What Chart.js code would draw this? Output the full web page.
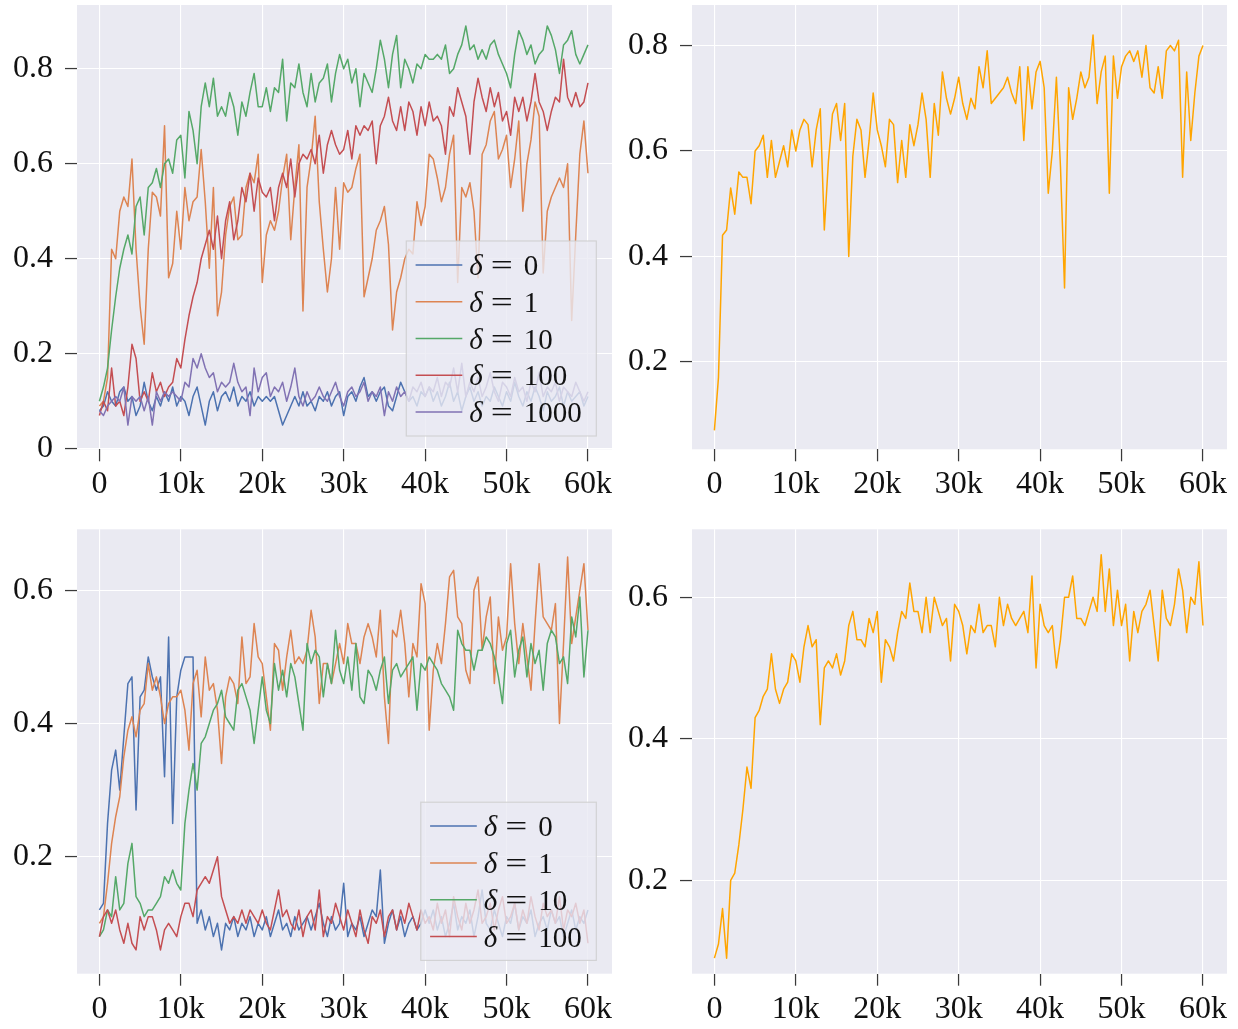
<!DOCTYPE html>
<html><head><meta charset="utf-8">
<script src="https://cdn.jsdelivr.net/npm/chart.js@4.4.1/dist/chart.umd.min.js"></script>
<style>
html,body{margin:0;padding:0;background:#fff;}
body{width:1238px;height:1029px;position:relative;overflow:hidden;}
canvas{position:absolute;}
</style></head><body>
<canvas id="tl" width="620" height="515" style="left:0px;top:0px"></canvas>
<canvas id="tr" width="623" height="515" style="left:615px;top:0px"></canvas>
<canvas id="bl" width="620" height="514" style="left:0px;top:515px"></canvas>
<canvas id="br" width="623" height="514" style="left:615px;top:515px"></canvas>
<script>
// ---------- data ----------
const steps = [
0,500,1000,1500,2000,2500,3000,3500,4000,4500,
5000,5500,6000,6500,7000,7500,8000,8500,9000,9500,
10000,10500,11000,11500,12000,12500,13000,13500,14000,14500,
15000,15500,16000,16500,17000,17500,18000,18500,19000,19500,
20000,20500,21000,21500,22000,22500,23000,23500,24000,24500,
25000,25500,26000,26500,27000,27500,28000,28500,29000,29500,
30000,30500,31000,31500,32000,32500,33000,33500,34000,34500,
35000,35500,36000,36500,37000,37500,38000,38500,39000,39500,
40000,40500,41000,41500,42000,42500,43000,43500,44000,44500,
45000,45500,46000,46500,47000,47500,48000,48500,49000,49500,
50000,50500,51000,51500,52000,52500,53000,53500,54000,54500,
55000,55500,56000,56500,57000,57500,58000,58500,59000,59500,
60000];

const deltaTop = ['0','1','10','100','1000'];
const deltaBottom = ['0','1','10','100'];

// top-left panel
const blueTL = [
0.08,0.09,0.12,0.10,0.09,0.12,0.13,0.10,0.11,0.07,
0.09,0.14,0.10,0.08,0.11,0.09,0.12,0.10,0.13,0.09,
0.11,0.10,0.07,0.11,0.13,0.09,0.05,0.10,0.12,0.08,
0.11,0.12,0.10,0.13,0.09,0.11,0.10,0.12,0.09,0.11,
0.10,0.11,0.10,0.11,0.08,0.05,0.07,0.09,0.11,0.09,
0.12,0.09,0.10,0.08,0.11,0.10,0.12,0.09,0.11,0.12,
0.07,0.11,0.12,0.10,0.13,0.15,0.11,0.12,0.10,0.12,
0.13,0.09,0.08,0.11,0.14,0.12,0.10,0.11,0.09,0.12,
0.11,0.13,0.10,0.12,0.09,0.11,0.14,0.10,0.12,0.08,
0.11,0.13,0.10,0.12,0.09,0.11,0.10,0.13,0.11,0.09,
0.12,0.10,0.14,0.11,0.09,0.12,0.10,0.13,0.11,0.08,
0.12,0.10,0.11,0.13,0.09,0.12,0.10,0.11,0.12,0.09,
0.11];
const orangeTL = [
0.09,0.10,0.15,0.42,0.40,0.50,0.53,0.51,0.61,0.42,
0.30,0.22,0.42,0.54,0.53,0.49,0.68,0.36,0.39,0.50,
0.42,0.55,0.48,0.52,0.53,0.63,0.52,0.38,0.55,0.28,
0.33,0.45,0.51,0.53,0.44,0.45,0.55,0.58,0.56,0.62,
0.35,0.45,0.48,0.46,0.50,0.57,0.62,0.44,0.55,0.64,
0.29,0.55,0.61,0.70,0.52,0.42,0.33,0.40,0.55,0.42,
0.56,0.54,0.55,0.59,0.62,0.32,0.36,0.40,0.46,0.48,
0.51,0.43,0.25,0.33,0.36,0.40,0.42,0.41,0.52,0.47,
0.51,0.62,0.61,0.57,0.52,0.55,0.62,0.66,0.35,0.55,
0.53,0.56,0.50,0.36,0.62,0.64,0.69,0.71,0.61,0.63,
0.66,0.55,0.61,0.69,0.50,0.60,0.65,0.73,0.70,0.37,
0.50,0.53,0.55,0.57,0.55,0.60,0.27,0.45,0.62,0.69,
0.58];
const greenTL = [
0.10,0.13,0.17,0.25,0.32,0.38,0.42,0.45,0.41,0.51,
0.53,0.45,0.55,0.56,0.59,0.55,0.60,0.61,0.58,0.65,
0.66,0.57,0.71,0.67,0.60,0.72,0.77,0.72,0.78,0.70,
0.72,0.70,0.75,0.72,0.66,0.73,0.70,0.75,0.79,0.72,
0.72,0.76,0.71,0.76,0.75,0.82,0.69,0.77,0.76,0.81,
0.75,0.72,0.79,0.73,0.77,0.78,0.81,0.73,0.79,0.83,
0.80,0.82,0.77,0.80,0.72,0.79,0.77,0.75,0.80,0.86,
0.82,0.76,0.83,0.87,0.76,0.82,0.80,0.77,0.81,0.80,
0.83,0.82,0.82,0.83,0.82,0.85,0.79,0.80,0.83,0.85,
0.89,0.84,0.85,0.82,0.84,0.82,0.85,0.86,0.83,0.81,
0.79,0.76,0.83,0.88,0.86,0.83,0.85,0.81,0.83,0.84,
0.89,0.87,0.84,0.79,0.85,0.86,0.88,0.83,0.81,0.83,
0.85];
const redTL = [
0.07,0.10,0.08,0.17,0.09,0.10,0.07,0.13,0.22,0.19,
0.10,0.12,0.10,0.16,0.12,0.14,0.11,0.13,0.14,0.19,
0.17,0.23,0.28,0.32,0.35,0.40,0.43,0.46,0.42,0.49,
0.40,0.48,0.52,0.44,0.48,0.55,0.52,0.58,0.50,0.57,
0.54,0.53,0.55,0.48,0.55,0.58,0.55,0.61,0.53,0.60,
0.62,0.61,0.63,0.60,0.66,0.58,0.64,0.67,0.64,0.62,
0.63,0.67,0.61,0.68,0.66,0.68,0.67,0.69,0.60,0.68,
0.70,0.74,0.69,0.67,0.72,0.67,0.73,0.71,0.66,0.72,
0.68,0.73,0.69,0.70,0.68,0.62,0.72,0.70,0.76,0.73,
0.70,0.62,0.73,0.78,0.74,0.71,0.76,0.72,0.75,0.69,
0.71,0.66,0.74,0.71,0.74,0.69,0.73,0.79,0.73,0.71,
0.67,0.71,0.74,0.73,0.82,0.74,0.72,0.75,0.72,0.73,
0.77];
const purpleTL = [
0.08,0.07,0.09,0.10,0.11,0.10,0.13,0.05,0.11,0.10,
0.11,0.08,0.11,0.05,0.12,0.10,0.12,0.11,0.12,0.11,
0.10,0.14,0.13,0.19,0.17,0.20,0.17,0.15,0.16,0.12,
0.14,0.13,0.14,0.18,0.14,0.12,0.13,0.07,0.17,0.12,
0.15,0.16,0.11,0.13,0.12,0.14,0.10,0.13,0.17,0.11,
0.09,0.12,0.10,0.11,0.13,0.11,0.10,0.12,0.14,0.11,
0.09,0.12,0.13,0.11,0.12,0.14,0.10,0.12,0.11,0.13,
0.07,0.12,0.10,0.13,0.11,0.12,0.10,0.13,0.12,0.14,
0.11,0.13,0.12,0.15,0.11,0.14,0.13,0.17,0.12,0.18,
0.11,0.14,0.12,0.15,0.11,0.13,0.16,0.12,0.10,0.14,
0.13,0.11,0.15,0.12,0.13,0.10,0.14,0.12,0.16,0.11,
0.13,0.12,0.14,0.10,0.13,0.12,0.11,0.14,0.12,0.10,
0.12];

// top-right panel
const orangeTR = [
0.07,0.17,0.44,0.45,0.53,0.48,0.56,0.55,0.55,0.50,
0.60,0.61,0.63,0.55,0.62,0.55,0.58,0.61,0.57,0.64,
0.60,0.64,0.66,0.65,0.57,0.64,0.68,0.45,0.58,0.67,
0.69,0.62,0.69,0.40,0.59,0.66,0.64,0.55,0.62,0.71,
0.64,0.61,0.57,0.66,0.65,0.54,0.62,0.55,0.65,0.61,
0.65,0.71,0.66,0.55,0.69,0.63,0.75,0.70,0.67,0.70,
0.74,0.69,0.66,0.70,0.68,0.76,0.72,0.79,0.69,0.70,
0.71,0.72,0.74,0.71,0.69,0.76,0.62,0.76,0.68,0.75,
0.77,0.72,0.52,0.60,0.74,0.57,0.34,0.72,0.66,0.70,
0.75,0.72,0.74,0.82,0.69,0.75,0.78,0.52,0.78,0.70,
0.76,0.78,0.79,0.77,0.79,0.74,0.80,0.72,0.71,0.76,
0.70,0.79,0.80,0.79,0.81,0.55,0.75,0.62,0.71,0.78,
0.80];

// bottom-left panel
const blueBL = [
0.12,0.13,0.25,0.33,0.36,0.30,0.38,0.46,0.47,0.27,
0.44,0.45,0.50,0.47,0.45,0.47,0.32,0.53,0.25,0.44,
0.48,0.50,0.50,0.50,0.10,0.12,0.09,0.11,0.08,0.10,
0.06,0.10,0.09,0.11,0.08,0.10,0.09,0.11,0.08,0.10,
0.09,0.11,0.08,0.10,0.12,0.09,0.10,0.08,0.11,0.09,
0.10,0.11,0.09,0.11,0.13,0.10,0.08,0.11,0.09,0.10,
0.16,0.08,0.10,0.09,0.11,0.08,0.10,0.12,0.11,0.18,
0.07,0.10,0.12,0.09,0.11,0.08,0.10,0.11,0.09,0.10,
0.12,0.10,0.12,0.09,0.11,0.08,0.10,0.13,0.09,0.11,
0.10,0.12,0.08,0.11,0.15,0.10,0.09,0.12,0.10,0.08,
0.11,0.10,0.13,0.09,0.11,0.10,0.12,0.08,0.10,0.11,
0.09,0.12,0.10,0.11,0.08,0.10,0.12,0.09,0.11,0.10,
0.12];
const orangeBL = [
0.10,0.11,0.16,0.22,0.26,0.29,0.35,0.39,0.41,0.38,
0.42,0.43,0.49,0.45,0.47,0.44,0.40,0.43,0.44,0.44,
0.45,0.42,0.36,0.46,0.48,0.41,0.50,0.45,0.46,0.42,
0.34,0.44,0.47,0.46,0.43,0.53,0.46,0.47,0.55,0.50,
0.49,0.44,0.39,0.52,0.51,0.45,0.50,0.54,0.49,0.50,
0.49,0.51,0.57,0.53,0.43,0.49,0.49,0.46,0.49,0.52,
0.49,0.55,0.52,0.52,0.49,0.53,0.55,0.53,0.50,0.57,
0.44,0.37,0.54,0.53,0.57,0.52,0.44,0.52,0.50,0.61,
0.58,0.39,0.48,0.52,0.49,0.55,0.62,0.63,0.56,0.55,
0.48,0.46,0.60,0.62,0.51,0.56,0.59,0.46,0.56,0.51,
0.53,0.64,0.55,0.49,0.55,0.50,0.45,0.55,0.64,0.56,
0.55,0.54,0.58,0.40,0.52,0.65,0.52,0.56,0.60,0.64,
0.54];
const greenBL = [
0.08,0.09,0.12,0.11,0.17,0.12,0.13,0.19,0.22,0.14,
0.13,0.11,0.12,0.12,0.13,0.14,0.17,0.16,0.18,0.16,
0.15,0.25,0.30,0.34,0.30,0.37,0.38,0.40,0.42,0.43,
0.45,0.41,0.40,0.39,0.45,0.46,0.44,0.42,0.37,0.42,
0.47,0.42,0.40,0.49,0.45,0.48,0.44,0.49,0.47,0.43,
0.39,0.52,0.49,0.51,0.50,0.44,0.49,0.46,0.54,0.48,
0.46,0.50,0.45,0.52,0.44,0.43,0.48,0.47,0.45,0.48,
0.50,0.43,0.48,0.49,0.47,0.48,0.49,0.50,0.42,0.49,
0.48,0.50,0.49,0.48,0.46,0.45,0.44,0.42,0.54,0.52,
0.51,0.51,0.48,0.51,0.51,0.53,0.52,0.50,0.47,0.43,
0.52,0.54,0.47,0.51,0.53,0.47,0.52,0.49,0.51,0.45,
0.52,0.54,0.53,0.49,0.50,0.46,0.56,0.53,0.59,0.47,
0.54];
const redBL = [
0.08,0.11,0.12,0.10,0.12,0.09,0.07,0.10,0.07,0.06,
0.11,0.09,0.11,0.11,0.09,0.06,0.09,0.10,0.09,0.08,
0.11,0.13,0.13,0.11,0.15,0.16,0.17,0.16,0.18,0.20,
0.14,0.12,0.10,0.11,0.10,0.12,0.10,0.12,0.11,0.10,
0.12,0.10,0.09,0.12,0.15,0.11,0.12,0.10,0.09,0.12,
0.08,0.11,0.12,0.09,0.15,0.08,0.11,0.10,0.13,0.11,
0.09,0.12,0.10,0.08,0.12,0.09,0.07,0.11,0.10,0.12,
0.08,0.11,0.12,0.09,0.12,0.10,0.13,0.11,0.09,0.12,
0.10,0.11,0.09,0.13,0.10,0.12,0.08,0.14,0.11,0.09,
0.13,0.10,0.12,0.15,0.10,0.11,0.13,0.09,0.12,0.14,
0.10,0.11,0.13,0.09,0.12,0.10,0.14,0.11,0.09,0.13,
0.11,0.12,0.10,0.14,0.09,0.12,0.11,0.13,0.10,0.12,
0.07];

// bottom-right panel
const orangeBR = [
0.09,0.11,0.16,0.09,0.20,0.21,0.25,0.30,0.36,0.33,
0.43,0.44,0.46,0.47,0.52,0.47,0.45,0.47,0.48,0.52,
0.51,0.48,0.53,0.56,0.53,0.54,0.42,0.50,0.51,0.50,
0.52,0.49,0.51,0.56,0.58,0.54,0.54,0.53,0.57,0.55,
0.58,0.48,0.54,0.53,0.51,0.55,0.58,0.57,0.62,0.58,
0.58,0.55,0.60,0.55,0.60,0.58,0.56,0.57,0.51,0.59,
0.58,0.56,0.52,0.56,0.55,0.59,0.55,0.56,0.56,0.53,
0.60,0.56,0.59,0.57,0.56,0.57,0.58,0.55,0.63,0.50,
0.59,0.56,0.55,0.56,0.50,0.54,0.60,0.60,0.63,0.57,
0.57,0.56,0.58,0.60,0.58,0.66,0.58,0.64,0.56,0.61,
0.56,0.59,0.51,0.58,0.55,0.58,0.59,0.61,0.56,0.51,
0.61,0.57,0.56,0.59,0.64,0.61,0.55,0.60,0.59,0.65,
0.56];

// ticks
const xTickValues = [0,10000,20000,30000,40000,50000,60000];
const xTickLabels = ['0','10k','20k','30k','40k','50k','60k'];
const yTicksTL = [0,0.2,0.4,0.6,0.8];
const yLabelsTL = ['0','0.2','0.4','0.6','0.8'];
const yTicksTR = [0.2,0.4,0.6,0.8];
const yLabelsTR = ['0.2','0.4','0.6','0.8'];
const yTicksB = [0.2,0.4,0.6];
const yLabelsB = ['0.2','0.4','0.6'];

// ---------- style ----------
const FONT = '"Liberation Serif", "DejaVu Serif", serif';
const palette = ['#4C72B0','#DD8452','#55A868','#C44E52','#8172B3'];
const singleColor = '#FFA500';
const X_MIN = -2750, X_MAX = 62950;

const bgPlugin = {
  id: 'plotBg',
  beforeDraw(chart) {
    const {ctx, chartArea: a} = chart;
    ctx.save();
    ctx.fillStyle = '#EAEAF2';
    ctx.fillRect(a.left, a.top, a.right - a.left, a.bottom - a.top);
    ctx.restore();
  }
};

const legendPlugin = {
  id: 'mplLegend',
  afterDatasetsDraw(chart, args, opts) {
    const items = opts.items;
    if (!items || !items.length) return;
    const ctx = chart.ctx, a = chart.chartArea;
    const fs = 29, rowH = 36.8;
    const normal = fs + 'px ' + FONT, ital = 'italic ' + fs + 'px ' + FONT;
    ctx.save();
    ctx.font = normal;
    let numW = 0;
    items.forEach(it => { numW = Math.max(numW, ctx.measureText(it.label).width); });
    const boxW = 9.3 + 46.7 + 7 + 54.4 + numW + 14.6;
    const boxH = items.length * rowH + 11;
    const right = a.right - 15.7, bottom = a.bottom - 13.3;
    const left = right - boxW, top = bottom - boxH;
    ctx.fillStyle = 'rgba(234,234,242,0.8)';
    ctx.fillRect(left, top, boxW, boxH);
    ctx.strokeStyle = 'rgba(204,204,204,0.8)';
    ctx.lineWidth = 1.2;
    ctx.strokeRect(left, top, boxW, boxH);
    items.forEach((it, k) => {
      const cy = top + 5.5 + rowH * (k + 0.5);
      ctx.strokeStyle = it.color; ctx.lineWidth = 1.5;
      ctx.beginPath(); ctx.moveTo(left + 9.3, cy); ctx.lineTo(left + 56, cy); ctx.stroke();
      const tx = left + 63, base = cy + 10;
      ctx.fillStyle = '#111';
      ctx.textBaseline = 'alphabetic';
      ctx.textAlign = 'left';
      ctx.font = ital; ctx.fillText('\u03B4', tx, base);
      ctx.font = normal;
      ctx.save(); ctx.translate(tx + 32.5, base); ctx.scale(1.35, 1);
      ctx.textAlign = 'center'; ctx.fillText('=', 0, 0); ctx.restore();
      ctx.textAlign = 'left'; ctx.fillText(it.label, tx + 54.4, base);
    });
    ctx.restore();
  }
};

function gridOpts() {
  return { color: '#FFFFFF', lineWidth: 1.1, drawTicks: true, tickLength: 12,
           tickColor: '#3a3a3a', tickWidth: 1.25 };
}

function makeChart(id, sets, cfg) {
  const n = sets.length;
  const datasets = sets.map((s, i) => ({
    data: steps.map((st, j) => ({x: st, y: s.values[j]})),
    borderColor: s.color, backgroundColor: s.color,
    borderWidth: 1.5, pointRadius: 0, tension: 0, fill: false,
    borderJoinStyle: 'round', order: n - 1 - i
  }));
  return new Chart(document.getElementById(id), {
    type: 'line',
    data: { datasets },
    options: {
      responsive: false, animation: false, devicePixelRatio: 1,
      layout: { padding: { top: cfg.padTop, right: cfg.padRight, left: 0, bottom: 0 } },
      plugins: { legend: { display: false }, tooltip: { enabled: false },
                 mplLegend: { items: cfg.legend || [] } },
      scales: {
        x: {
          type: 'linear', min: X_MIN, max: X_MAX,
          afterBuildTicks: s => { s.ticks = xTickValues.map(v => ({value: v})); },
          afterFit: s => { s.height = cfg.xH; s.paddingLeft = 0; s.paddingRight = 0; s.paddingTop = 0; s.paddingBottom = 0; },
          grid: gridOpts(), border: { display: false },
          ticks: { font: { family: FONT, size: 32 }, color: '#111', padding: cfg.xPad,
                   maxRotation: 0, autoSkip: false, callback: (v, i) => xTickLabels[i] }
        },
        y: {
          type: 'linear', min: cfg.yMin, max: cfg.yMax,
          afterBuildTicks: s => { s.ticks = cfg.yTicks.map(v => ({value: v})); },
          afterFit: s => { s.width = 77; s.paddingLeft = 0; s.paddingRight = 0; s.paddingTop = 0; s.paddingBottom = 0; },
          grid: gridOpts(), border: { display: false },
          ticks: { font: { family: FONT, size: 32 }, color: '#111', padding: 12,
                   autoSkip: false, callback: (v, i) => cfg.yLabels[i] }
        }
      }
    },
    plugins: [bgPlugin, legendPlugin]
  });
}

const topSets = [blueTL, orangeTL, greenTL, redTL, purpleTL].map((v, i) => ({values: v, color: palette[i]}));
const botSets = [blueBL, orangeBL, greenBL, redBL].map((v, i) => ({values: v, color: palette[i]}));

makeChart('tl', topSets, {
  padTop: 5, padRight: 8, xH: 65.7, xPad: 4,
  yMin: -0.001, yMax: 0.934, yTicks: yTicksTL, yLabels: yLabelsTL,
  legend: deltaTop.map((d, i) => ({label: d, color: palette[i]}))
});
makeChart('tr', [{values: orangeTR, color: singleColor}], {
  padTop: 5, padRight: 11, xH: 65.7, xPad: 4,
  yMin: 0.034, yMax: 0.877, yTicks: yTicksTR, yLabels: yLabelsTR
});
makeChart('bl', botSets, {
  padTop: 14.3, padRight: 8, xH: 55.3, xPad: 5,
  yMin: 0.0243, yMax: 0.6916, yTicks: yTicksB, yLabels: yLabelsB,
  legend: deltaBottom.map((d, i) => ({label: d, color: palette[i]}))
});
makeChart('br', [{values: orangeBR, color: singleColor}], {
  padTop: 14.3, padRight: 11, xH: 55.3, xPad: 5,
  yMin: 0.068, yMax: 0.696, yTicks: yTicksB, yLabels: yLabelsB
});
</script>
</body></html>
